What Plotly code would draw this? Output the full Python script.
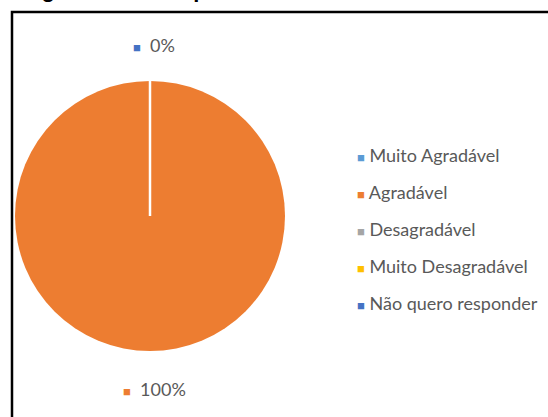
import plotly.graph_objects as go

# Survey answers and their shares
categorias = ["Muito Agradável", "Agradável", "Desagradável",
              "Muito Desagradável", "Não quero responder"]
valores = [0, 100, 0, 0, 0]
cores = ["#5B9BD5", "#ED7D31", "#A5A5A5", "#FFC000", "#4472C4"]
titulo = "Figura 12 – Comportamento dos alunos durante as aulas"

W, H = 548, 417
FONT = "Lato"
GRAY = "#595959"

def px(x):
    return x / W

def py(y):
    return 1 - y / H

# Pie placement (pixels)
cx, cy, diam = 150, 216, 270

fig = go.Figure()
fig.add_trace(go.Pie(
    labels=categorias,
    values=valores,
    marker=dict(colors=cores, line=dict(color="white", width=0)),
    sort=False,
    direction="clockwise",
    rotation=0,
    textinfo="none",
    hoverinfo="label+percent",
    showlegend=False,
    domain=dict(x=[px(cx - diam / 2), px(cx + diam / 2)],
                y=[py(cy + diam / 2), py(cy - diam / 2)]),
))

total = sum(valores)
annotations = []

# Data labels: zero slices stack at the top, the full slice at the bottom
zero_idx = [i for i, v in enumerate(valores) if v == 0]
full_idx = [i for i, v in enumerate(valores) if v > 0]
for idx, (lx, ly) in zip([zero_idx[-1], full_idx[0]], [(131, 45), (121, 389)]):
    pct = round(100 * valores[idx] / total)
    annotations.append(dict(
        x=px(lx), y=py(ly), xref="paper", yref="paper",
        xanchor="left", yanchor="middle", showarrow=False,
        text=f"<span style='color:{cores[idx]};font-size:13px'>■</span>  {pct}%",
        font=dict(family=FONT, size=18, color=GRAY),
    ))

# Legend entries
for i, (cat, cor) in enumerate(zip(categorias, cores)):
    annotations.append(dict(
        x=px(355), y=py(155 + 37 * i), xref="paper", yref="paper",
        xanchor="left", yanchor="middle", showarrow=False,
        text=f"<span style='color:{cor};font-size:13px'>■</span> {cat}",
        font=dict(family=FONT, size=18, color=GRAY),
    ))

# Caption above the frame (only its lower edge fits on the page)
annotations.append(dict(
    x=px(20), y=py(4), xref="paper", yref="paper",
    xanchor="left", yanchor="bottom", showarrow=False,
    text=f"<b>{titulo}</b>",
    font=dict(family="Liberation Sans", size=22, color="black"),
))

# Frame, plus the white separator where the zero slices meet the full slice
shapes = [
    dict(type="rect", xref="paper", yref="paper",
         x0=px(12), x1=px(W + 10), y0=py(H + 10), y1=py(12),
         line=dict(color="black", width=2.5), layer="above"),
    dict(type="line", xref="paper", yref="paper",
         x0=px(cx), x1=px(cx), y0=py(cy), y1=py(cy - diam / 2 - 1),
         line=dict(color="white", width=2.5)),
]

fig.update_layout(
    width=W, height=H,
    margin=dict(l=0, r=0, t=0, b=0),
    paper_bgcolor="white",
    plot_bgcolor="white",
    annotations=annotations,
    shapes=shapes,
)

fig.write_html("out.html")
